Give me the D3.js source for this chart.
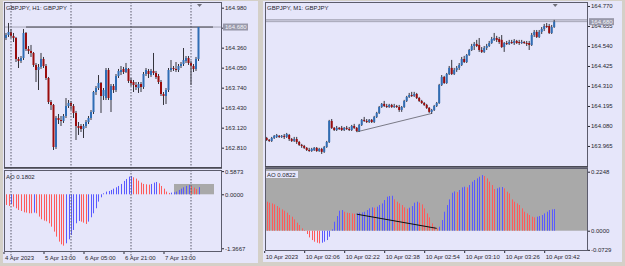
<!DOCTYPE html>
<html>
<head>
<meta charset="utf-8">
<script src="https://cdn.jsdelivr.net/npm/d3@7/dist/d3.min.js"></script>
<style>
  body { margin: 0; background: #d4d0c8; }
  svg { display: block; }
</style>
</head>
<body>
<svg id="chart" width="625" height="266"></svg>
<script>
// ---- GBPJPY H1 (left window) ----
const h1Title = "GBPJPY, H1:  GBPJPY";
const h1Open = [164.510,164.557,164.603,164.541,164.510,164.185,164.154,164.200,164.588,164.340,164.309,164.278,164.092,164.014,164.061,164.185,164.076,163.890,163.518,163.472,162.821,163.270,163.239,163.224,163.301,163.456,163.503,163.456,163.348,163.146,163.146,163.100,163.146,163.208,163.270,163.363,163.673,163.735,163.813,163.611,163.580,164.014,163.549,163.766,163.704,163.921,163.983,164.030,163.983,164.030,163.859,163.828,163.782,163.735,163.797,163.751,163.952,163.999,163.936,163.999,163.968,163.921,163.828,163.642,163.611,163.704,164.014,164.045,164.030,164.014,164.076,164.107,164.154,164.200,164.123,164.076,164.030,164.185];
const h1High = [164.588,164.743,164.650,164.588,164.526,164.216,164.231,164.650,164.603,164.386,164.402,164.293,164.123,164.107,164.278,164.216,164.107,163.906,163.549,163.487,163.301,163.332,163.301,163.332,163.580,163.549,163.534,163.487,163.379,163.208,163.177,163.177,163.239,163.301,163.394,163.689,163.766,163.936,163.828,163.735,164.045,164.045,163.797,163.797,163.952,164.030,164.076,164.061,164.123,164.045,163.890,163.859,163.828,163.828,163.828,163.983,164.045,164.030,164.030,164.278,163.999,163.952,163.859,163.673,163.735,164.045,164.169,164.076,164.138,164.107,164.138,164.355,164.231,164.231,164.154,164.107,164.216,164.680];
const h1Low = [164.479,164.526,164.510,164.448,164.138,164.045,164.123,164.169,164.309,164.262,164.216,164.061,163.828,163.704,164.030,164.045,163.859,163.487,163.394,162.774,162.790,163.177,163.146,163.193,163.270,163.425,163.394,163.270,162.929,163.007,163.053,162.960,163.115,163.177,163.239,163.332,163.627,163.704,163.348,163.549,163.549,163.549,163.363,163.658,163.673,163.890,163.936,163.952,163.968,163.813,163.766,163.673,163.704,163.658,163.673,163.720,163.921,163.890,163.906,163.936,163.875,163.797,163.611,163.472,163.487,163.673,163.983,163.999,163.983,163.983,164.045,164.076,164.123,164.092,163.782,163.983,163.999,164.154];
const h1Close = [164.557,164.603,164.541,164.510,164.185,164.154,164.200,164.588,164.340,164.309,164.278,164.092,164.014,164.061,164.185,164.076,163.890,163.518,163.472,162.821,163.270,163.239,163.224,163.301,163.456,163.503,163.456,163.348,163.146,163.115,163.100,163.146,163.208,163.270,163.363,163.673,163.735,163.813,163.611,163.704,164.014,163.580,163.766,163.704,163.921,163.999,164.014,163.983,164.045,163.844,163.813,163.782,163.751,163.797,163.751,163.952,164.014,163.952,163.999,163.968,163.906,163.828,163.642,163.611,163.704,164.014,164.045,164.030,164.014,164.076,164.107,164.169,164.200,164.123,164.076,164.030,164.185,164.680];
const h1AO = [-0.270,-0.295,-0.245,-0.312,-0.354,-0.397,-0.422,-0.456,-0.464,-0.481,-0.481,-0.464,-0.481,-0.565,-0.633,-0.667,-0.684,-0.734,-0.819,-0.945,-1.072,-1.198,-1.266,-1.300,-1.241,-1.139,-1.030,-0.903,-0.734,-0.675,-0.692,-0.717,-0.751,-0.692,-0.582,-0.481,-0.354,-0.186,-0.076,0.025,0.068,0.084,0.110,0.143,0.177,0.211,0.262,0.338,0.388,0.447,0.464,0.430,0.397,0.346,0.295,0.262,0.253,0.245,0.262,0.295,0.312,0.278,0.211,0.143,0.068,0.034,0.042,0.051,0.068,0.110,0.143,0.177,0.211,0.236,0.211,0.169,0.135,0.1802];
const h1PriceTicks = [164.980, 164.670, 164.360, 164.050, 163.740, 163.430, 163.120, 162.810];
const h1AOTicks = [0.5873, 0, -1.3667];
const h1DateTicks = [-1, 15, 31, 47, 63];
const h1DateLabels = ["4 Apr 2023", "5 Apr 13:00", "6 Apr 05:00", "6 Apr 21:00", "7 Apr 13:00"];
const h1Separators = [2, 26, 50, 74];
const h1HLine = { from: 8, to: 82.8, price: 164.680 };
const h1AORect = { from: 67.2, to: 83.2, low: 0, high: 0.261 };

// ---- GBPJPY M1 (right window) ----
const m1Title = "GBPJPY, M1:  GBPJPY";
const m1Open = [164.011,164.000,163.994,164.011,164.017,164.023,164.017,164.023,164.017,164.028,164.005,163.994,164.005,163.988,163.971,163.965,163.954,163.942,163.936,163.942,163.954,163.936,163.948,163.931,163.959,163.988,164.109,164.069,164.057,164.069,164.069,164.057,164.069,164.063,164.057,164.080,164.069,164.051,164.086,164.115,164.109,164.103,164.115,164.103,164.132,164.155,164.189,164.207,164.195,164.189,164.201,164.189,164.195,164.189,164.172,164.189,164.224,164.247,164.258,164.253,164.264,164.241,164.224,164.212,164.201,164.184,164.161,164.172,164.195,164.212,164.316,164.362,164.327,164.379,164.414,164.379,164.402,164.414,164.431,164.465,164.448,164.488,164.517,164.540,164.552,164.546,164.517,164.506,164.529,164.540,164.557,164.575,164.586,164.580,164.575,164.534,164.557,164.552,164.563,164.557,164.569,164.563,164.557,164.563,164.557,164.557,164.546,164.603,164.621,164.592,164.621,164.638,164.655,164.655,164.615,164.649];
const m1High = [164.017,164.005,164.017,164.028,164.034,164.028,164.028,164.034,164.040,164.034,164.011,164.017,164.017,163.994,163.977,163.971,163.959,163.954,163.954,163.959,163.959,163.954,163.954,163.965,163.994,164.115,164.120,164.074,164.080,164.074,164.080,164.074,164.080,164.074,164.086,164.092,164.074,164.092,164.120,164.132,164.120,164.120,164.120,164.138,164.161,164.195,164.212,164.224,164.207,164.207,164.207,164.207,164.201,164.201,164.195,164.230,164.253,164.270,164.276,164.276,164.270,164.247,164.230,164.218,164.207,164.189,164.178,164.201,164.218,164.322,164.373,164.368,164.385,164.425,164.460,164.414,164.425,164.442,164.477,164.483,164.494,164.523,164.552,164.563,164.575,164.586,164.534,164.540,164.552,164.569,164.592,164.615,164.598,164.592,164.603,164.563,164.569,164.575,164.575,164.580,164.575,164.575,164.575,164.569,164.569,164.569,164.615,164.632,164.632,164.632,164.649,164.667,164.672,164.667,164.661,164.690];
const m1Low = [163.994,163.988,163.988,164.005,164.011,164.011,164.011,164.005,164.011,163.994,163.988,163.988,163.977,163.965,163.954,163.948,163.936,163.931,163.931,163.936,163.931,163.931,163.919,163.925,163.954,163.982,164.063,164.051,164.051,164.057,164.051,164.051,164.057,164.051,164.051,164.063,164.046,164.046,164.080,164.103,164.097,164.097,164.097,164.097,164.126,164.149,164.184,164.189,164.184,164.184,164.184,164.184,164.184,164.161,164.161,164.184,164.218,164.241,164.247,164.247,164.235,164.218,164.207,164.195,164.178,164.155,164.149,164.166,164.189,164.207,164.310,164.322,164.322,164.373,164.373,164.373,164.391,164.402,164.425,164.442,164.442,164.483,164.511,164.517,164.534,164.506,164.500,164.500,164.517,164.534,164.552,164.569,164.563,164.552,164.529,164.506,164.546,164.546,164.552,164.546,164.552,164.546,164.552,164.552,164.540,164.517,164.540,164.592,164.586,164.586,164.609,164.626,164.644,164.609,164.609,164.644];
const m1Close = [164.000,163.994,164.011,164.023,164.028,164.017,164.023,164.017,164.034,164.005,163.994,164.005,163.988,163.971,163.965,163.954,163.942,163.936,163.948,163.954,163.936,163.948,163.931,163.959,163.988,164.109,164.069,164.057,164.069,164.063,164.057,164.069,164.063,164.057,164.080,164.069,164.051,164.086,164.115,164.109,164.103,164.115,164.103,164.132,164.155,164.189,164.207,164.195,164.189,164.201,164.189,164.195,164.189,164.172,164.189,164.224,164.247,164.258,164.253,164.264,164.241,164.224,164.212,164.201,164.184,164.161,164.172,164.195,164.212,164.316,164.362,164.327,164.379,164.414,164.379,164.402,164.414,164.431,164.465,164.448,164.488,164.517,164.540,164.552,164.540,164.517,164.506,164.529,164.540,164.557,164.580,164.586,164.575,164.563,164.534,164.557,164.552,164.563,164.557,164.569,164.557,164.557,164.563,164.557,164.552,164.546,164.603,164.621,164.592,164.621,164.638,164.655,164.649,164.615,164.649,164.680];
const m1AO = [0.1105,0.1067,0.1041,0.1003,0.0940,0.0876,0.0813,0.0762,0.0686,0.0597,0.0533,0.0432,0.0305,0.0216,0.0089,0.0025,-0.0127,-0.0254,-0.0356,-0.0419,-0.0457,-0.0483,-0.0457,-0.0419,-0.0356,-0.0229,0.0051,0.0343,0.0559,0.0762,0.0787,0.0724,0.0686,0.0673,0.0660,0.0648,0.0660,0.0686,0.0698,0.0724,0.0787,0.0851,0.0889,0.0876,0.0914,0.0978,0.1041,0.1168,0.1295,0.1321,0.1333,0.1194,0.1105,0.1041,0.0978,0.0889,0.0838,0.0876,0.0940,0.1067,0.1105,0.1067,0.1003,0.0851,0.0660,0.0508,0.0279,0.0152,0.0089,0.0152,0.0406,0.0724,0.0978,0.1194,0.1448,0.1498,0.1473,0.1549,0.1651,0.1676,0.1651,0.1740,0.1867,0.1930,0.1994,0.2057,0.2121,0.2083,0.1994,0.1867,0.1740,0.1587,0.1613,0.1651,0.1663,0.1613,0.1486,0.1422,0.1194,0.1105,0.1041,0.0978,0.0851,0.0724,0.0660,0.0597,0.0533,0.0508,0.0533,0.0559,0.0597,0.0660,0.0724,0.0787,0.0813,0.0822];
const m1PriceTicks = [164.770, 164.655, 164.540, 164.425, 164.310, 164.195, 164.080, 163.965];
const m1AOTicks = [0.2248, 0, -0.0729];
const m1DateTicks = [-1, 15, 31, 47, 63, 79, 95, 111];
const m1DateLabels = ["10 Apr 2023", "10 Apr 02:06", "10 Apr 02:22", "10 Apr 02:38", "10 Apr 02:54", "10 Apr 03:10", "10 Apr 03:26", "10 Apr 03:42"];
const m1AskPrice = 164.690;
const m1Trend = { i0: 36, p0: 164.046, i1: 66, p1: 164.152 };
const m1AOTrend = { i0: 36, v0: 0.063, i1: 68, v1: 0.009 };
const m1AORect = { from: -2, to: 132, low: 0, high: 0.25 };

const lastPrice = 164.680;

// ---- drawing ----
const font = "'Liberation Sans', Arial, sans-serif";
const lavender = "#e6e6fa";
const frameColor = "#5c5c6c";
const textColor = "#262630";
const bullFill = "#2f6db5", bearFill = "#9a0c0c", wickColor = "#34343c";
const aoUp = "#5a5aff", aoDown = "#ff5a5a";

const svg = d3.select("#chart");
let clipId = 0;

function drawChart(c) {
  const g = svg.append("g");
  const p = c.plot;

  g.append("rect")
    .attr("x", c.win.x).attr("y", c.win.y)
    .attr("width", c.win.w).attr("height", c.win.h)
    .attr("fill", lavender);

  const x = d3.scaleLinear().domain(c.xDomain).range([p.left, p.right]);
  const y = d3.scaleLinear().domain(c.priceDomain).range([p.priceBottom, p.top]);
  const ya = d3.scaleLinear().domain(c.aoDomain).range([p.aoBottom, p.aoTop]);

  const priceClip = "clip" + (clipId++);
  const aoClip = "clip" + (clipId++);
  const defs = g.append("defs");
  defs.append("clipPath").attr("id", priceClip).append("rect")
    .attr("x", p.left).attr("y", p.top).attr("width", p.right - p.left).attr("height", p.priceBottom - p.top);
  defs.append("clipPath").attr("id", aoClip).append("rect")
    .attr("x", p.left).attr("y", p.aoTop).attr("width", p.right - p.left).attr("height", p.aoBottom - p.aoTop);

  const price = g.append("g").attr("clip-path", `url(#${priceClip})`);
  const ao = g.append("g").attr("clip-path", `url(#${aoClip})`);

  // rectangle objects in the AO window
  if (c.aoRect) {
    ao.append("rect")
      .attr("x", x(c.aoRect.from)).attr("width", x(c.aoRect.to) - x(c.aoRect.from))
      .attr("y", ya(c.aoRect.high)).attr("height", ya(c.aoRect.low) - ya(c.aoRect.high))
      .attr("fill", "#a9a9a9");
  }

  // day separators
  if (c.separators) {
    g.selectAll(".sep").data(c.separators).join("line")
      .attr("class", "sep")
      .attr("x1", d => x(d)).attr("x2", d => x(d))
      .attr("y1", p.top).attr("y2", p.aoBottom + 4)
      .attr("stroke", "#5a5a6a").attr("stroke-width", 1)
      .attr("stroke-dasharray", "1.5,1.5");
  }

  // bid / ask lines
  price.append("line")
    .attr("x1", p.left).attr("x2", p.right)
    .attr("y1", y(lastPrice)).attr("y2", y(lastPrice))
    .attr("stroke", "#a4a4b4").attr("stroke-width", 1);
  if (c.askPrice) {
    price.append("line")
      .attr("x1", p.left).attr("x2", p.right)
      .attr("y1", y(c.askPrice)).attr("y2", y(c.askPrice))
      .attr("stroke", "#8e8e9e").attr("stroke-width", 1);
  }
  if (c.hline) {
    price.append("line")
      .attr("x1", x(c.hline.from)).attr("x2", x(c.hline.to))
      .attr("y1", y(c.hline.price)).attr("y2", y(c.hline.price))
      .attr("stroke", "#4a4a52").attr("stroke-width", 1);
  }
  if (c.trend) {
    price.append("line")
      .attr("x1", x(c.trend.i0)).attr("y1", y(c.trend.p0))
      .attr("x2", x(c.trend.i1)).attr("y2", y(c.trend.p1))
      .attr("stroke", "#7a7a86").attr("stroke-width", 1);
  }

  // candles
  const bars = c.open.map((o, i) => ({ i, o, h: c.high[i], l: c.low[i], cl: c.close[i] }));
  price.selectAll(".wick").data(bars).join("line")
    .attr("class", "wick")
    .attr("x1", d => x(d.i)).attr("x2", d => x(d.i))
    .attr("y1", d => y(d.h)).attr("y2", d => y(d.l))
    .attr("stroke", wickColor).attr("stroke-width", 1);
  price.selectAll(".body").data(bars).join("rect")
    .attr("class", "body")
    .attr("x", d => x(d.i) - 1)
    .attr("width", 2)
    .attr("y", d => y(Math.max(d.o, d.cl)))
    .attr("height", d => Math.max(1, Math.abs(y(d.o) - y(d.cl))))
    .attr("fill", d => d.cl >= d.o ? bullFill : bearFill);

  // AO histogram, coloured by direction
  let up = false;
  const aoBars = c.ao.map((v, i) => {
    if (i > 0) {
      if (v > c.ao[i - 1]) up = true;
      else if (v < c.ao[i - 1]) up = false;
    }
    return { i, v, up };
  });
  ao.selectAll(".aobar").data(aoBars).join("line")
    .attr("class", "aobar")
    .attr("x1", d => Math.round(x(d.i)) + 0.5).attr("x2", d => Math.round(x(d.i)) + 0.5)
    .attr("y1", ya(0)).attr("y2", d => ya(d.v))
    .attr("stroke", d => d.up ? aoUp : aoDown).attr("stroke-width", 1);

  if (c.aoTrend) {
    ao.append("line")
      .attr("x1", x(c.aoTrend.i0)).attr("y1", ya(c.aoTrend.v0))
      .attr("x2", x(c.aoTrend.i1)).attr("y2", ya(c.aoTrend.v1))
      .attr("stroke", "#111").attr("stroke-width", 1);
  }

  // frames
  g.append("rect")
    .attr("x", p.left + 0.5).attr("y", p.top + 0.5)
    .attr("width", p.right - p.left - 1).attr("height", p.priceBottom - p.top - 1)
    .attr("fill", "none").attr("stroke", frameColor);
  g.append("line")
    .attr("x1", p.left).attr("x2", p.right)
    .attr("y1", p.priceBottom).attr("y2", p.priceBottom)
    .attr("stroke", "#44444e").attr("stroke-width", 1.5);
  g.append("rect")
    .attr("x", p.left + 0.5).attr("y", p.aoTop + 0.5)
    .attr("width", p.right - p.left - 1).attr("height", p.aoBottom - p.aoTop - 1)
    .attr("fill", "none").attr("stroke", frameColor);

  // axes
  const styleAxis = a => {
    a.select(".domain").remove();
    a.attr("font-size", 6).attr("font-family", font).attr("color", textColor);
  };
  g.append("g")
    .attr("transform", `translate(${p.right},0)`)
    .call(d3.axisRight(y).tickValues(c.priceTicks).tickFormat(d => d.toFixed(3)).tickSize(2).tickPadding(1))
    .call(styleAxis);
  g.append("g")
    .attr("transform", `translate(${p.right},0)`)
    .call(d3.axisRight(ya).tickValues(c.aoTicks).tickFormat(d => d.toFixed(4)).tickSize(2).tickPadding(1))
    .call(styleAxis);
  g.append("g")
    .attr("transform", `translate(0,${p.aoBottom})`)
    .call(d3.axisBottom(x).tickValues(c.dateTicks).tickFormat((d, i) => c.dateLabels[i]).tickSize(2).tickPadding(2))
    .call(styleAxis)
    .call(a => a.selectAll("text").attr("text-anchor", "start").attr("dx", 1));

  // last price box
  const by = y(lastPrice);
  g.append("rect")
    .attr("x", p.right + 1).attr("y", by - 3.5)
    .attr("width", 25).attr("height", 7)
    .attr("fill", "#9898aa");
  g.append("text")
    .attr("x", p.right + 3).attr("y", by + 2)
    .attr("font-size", 6).attr("font-family", font).attr("fill", "#f4f4f8")
    .text(lastPrice.toFixed(3));

  // window title
  g.append("text")
    .attr("x", p.left + 2).attr("y", p.top + 7.5)
    .attr("font-size", 6).attr("font-family", font).attr("fill", textColor)
    .text(c.title);

  // AO caption
  const cap = "AO " + c.ao[c.ao.length - 1].toFixed(4);
  if (c.captionBox) {
    g.append("rect")
      .attr("x", p.left + 1).attr("y", p.aoTop + 3)
      .attr("width", 32).attr("height", 7)
      .attr("fill", lavender);
  }
  g.append("text")
    .attr("x", p.left + 2).attr("y", p.aoTop + 8.5)
    .attr("font-size", 6).attr("font-family", font).attr("fill", textColor)
    .text(cap);

  // shift marker
  const tx = x(c.open.length - 1) + 1;
  g.append("path")
    .attr("d", `M${tx - 2.5},${p.top + 2}L${tx + 2.5},${p.top + 2}L${tx},${p.top + 5}Z`)
    .attr("fill", "#70707a");
}

drawChart({
  title: h1Title,
  win: { x: 3, y: 1, w: 255, h: 262 },
  plot: { left: 4, right: 222, top: 2, priceBottom: 168, aoTop: 170, aoBottom: 252 },
  xDomain: [-0.8, 86.4],
  priceDomain: [162.495, 165.068],
  aoDomain: [-1.461, 0.615],
  open: h1Open, high: h1High, low: h1Low, close: h1Close, ao: h1AO,
  priceTicks: h1PriceTicks, aoTicks: h1AOTicks,
  dateTicks: h1DateTicks, dateLabels: h1DateLabels,
  separators: h1Separators,
  hline: h1HLine,
  aoRect: h1AORect
});

drawChart({
  title: m1Title,
  win: { x: 263, y: 1, w: 359, h: 261 },
  plot: { left: 265, right: 588, top: 2, priceBottom: 167, aoTop: 168, aoBottom: 251 },
  xDomain: [-0.68, 128.52],
  priceDomain: [163.844, 164.793],
  aoDomain: [-0.0773, 0.2389],
  open: m1Open, high: m1High, low: m1Low, close: m1Close, ao: m1AO,
  priceTicks: m1PriceTicks, aoTicks: m1AOTicks,
  dateTicks: m1DateTicks, dateLabels: m1DateLabels,
  askPrice: m1AskPrice,
  trend: m1Trend,
  aoTrend: m1AOTrend,
  aoRect: m1AORect,
  captionBox: true
});
</script>
</body>
</html>
